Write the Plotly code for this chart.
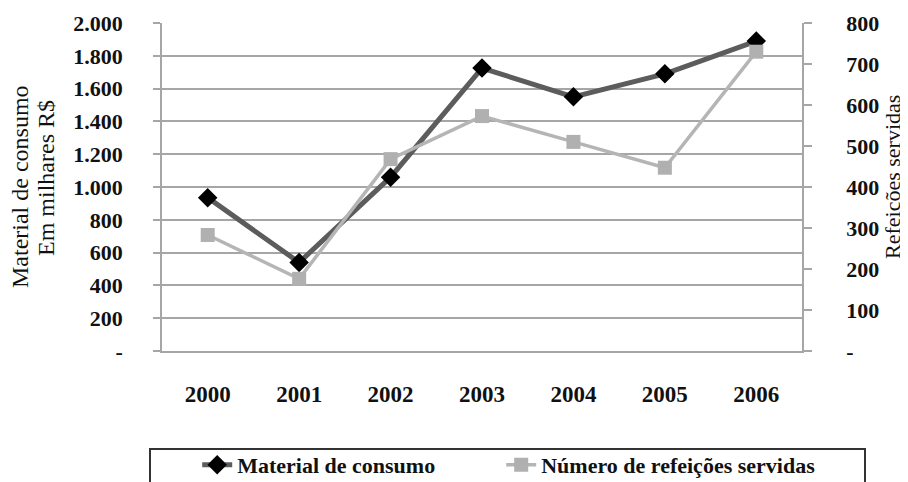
import plotly.graph_objects as go

anos = ["2000", "2001", "2002", "2003", "2004", "2005", "2006"]
material = [935, 540, 1060, 1725, 1550, 1690, 1890]
refeicoes = [283, 176, 468, 573, 510, 447, 730]

left_vals = [0, 200, 400, 600, 800, 1000, 1200, 1400, 1600, 1800, 2000]
left_text = ["-", "200", "400", "600", "800", "1.000", "1.200", "1.400", "1.600", "1.800", "2.000"]
right_vals = [0, 100, 200, 300, 400, 500, 600, 700, 800]
right_text = ["-", "100", "200", "300", "400", "500", "600", "700", "800"]

FONT = "Liberation Serif"
INK = "#111111"
GRID = "#a6a6a6"

# the page body has an 8px margin, so the figure is 8px smaller on each side
PW, PH = 640, 328
ML, MT = 154, 15


def px(x):  # window pixel -> paper x
    return (x - 162) / PW


def py(y):  # window pixel -> paper y
    return (351 - y) / PH


fig = go.Figure()

fig.add_trace(go.Scatter(
    x=anos, y=material, name="<b>Material de consumo</b>",
    mode="lines+markers", legend="legend",
    line=dict(color="#5c5c5c", width=5),
    marker=dict(symbol="diamond", size=15, color="#000000"),
))

fig.add_trace(go.Scatter(
    x=anos, y=refeicoes, name="<b>Número de refeições servidas</b>",
    mode="lines+markers", yaxis="y2", legend="legend2",
    line=dict(color="#b5b5b5", width=3.5),
    marker=dict(symbol="square", size=14, color="#b0b0b0"),
))

# caixa da legenda (continua abaixo da imagem)
fig.add_shape(type="rect", xref="paper", yref="paper",
              x0=px(150), x1=px(865), y0=py(500), y1=py(449),
              line=dict(color="#333333", width=2), fillcolor="white", layer="below")

leg = dict(
    orientation="h", y=-0.2835, xanchor="left", yanchor="top",
    borderwidth=0, bgcolor="rgba(0,0,0,0)",
    font=dict(size=22, family=FONT, color=INK),
    itemclick=False,
)

fig.update_layout(
    width=900, height=474,
    margin=dict(l=ML, r=900 - ML - PW, t=MT, b=474 - MT - PH, autoexpand=False),
    paper_bgcolor="white", plot_bgcolor="white",
    font=dict(family=FONT, color=INK, size=20),
    xaxis=dict(
        type="category", range=[-0.5, 6.5],
        showgrid=False, showline=True, linecolor=GRID, linewidth=1.5,
        ticks="", ticklabelstandoff=22,
        tickfont=dict(size=23, family=FONT, color=INK, weight="bold"),
    ),
    yaxis=dict(
        range=[0, 2000], tickvals=left_vals, ticktext=left_text,
        showgrid=True, gridcolor=GRID, gridwidth=1.5,
        showline=True, linecolor=GRID, linewidth=1.5,
        ticks="outside", ticklen=7, tickcolor=GRID, tickwidth=1.5,
        ticklabelstandoff=26, zeroline=False,
        tickfont=dict(size=22, family=FONT, color=INK, weight="bold"),
    ),
    yaxis2=dict(
        range=[0, 800], tickvals=right_vals, ticktext=right_text,
        overlaying="y", side="right",
        showgrid=False, showline=True, linecolor=GRID, linewidth=1.5,
        ticks="outside", ticklen=8, tickcolor=GRID, tickwidth=1.5,
        ticklabelstandoff=30, zeroline=False,
        tickfont=dict(size=22, family=FONT, color=INK, weight="bold"),
    ),
    showlegend=True,
    legend=dict(leg, x=0.055),
    legend2=dict(leg, x=0.530),
    annotations=[
        dict(text="Material de consumo", xref="paper", yref="paper",
             x=px(20), y=py(187), xanchor="center", yanchor="middle", textangle=-90,
             showarrow=False, font=dict(size=24, family=FONT, color=INK)),
        dict(text="Em milhares R$", xref="paper", yref="paper",
             x=px(46), y=py(178), xanchor="center", yanchor="middle", textangle=-90,
             showarrow=False, font=dict(size=24, family=FONT, color=INK)),
        dict(text="Refeições servidas", xref="paper", yref="paper",
             x=px(892), y=py(177), xanchor="center", yanchor="middle", textangle=-90,
             showarrow=False, font=dict(size=22, family=FONT, color=INK)),
    ],
)

fig.write_html("out.html")
